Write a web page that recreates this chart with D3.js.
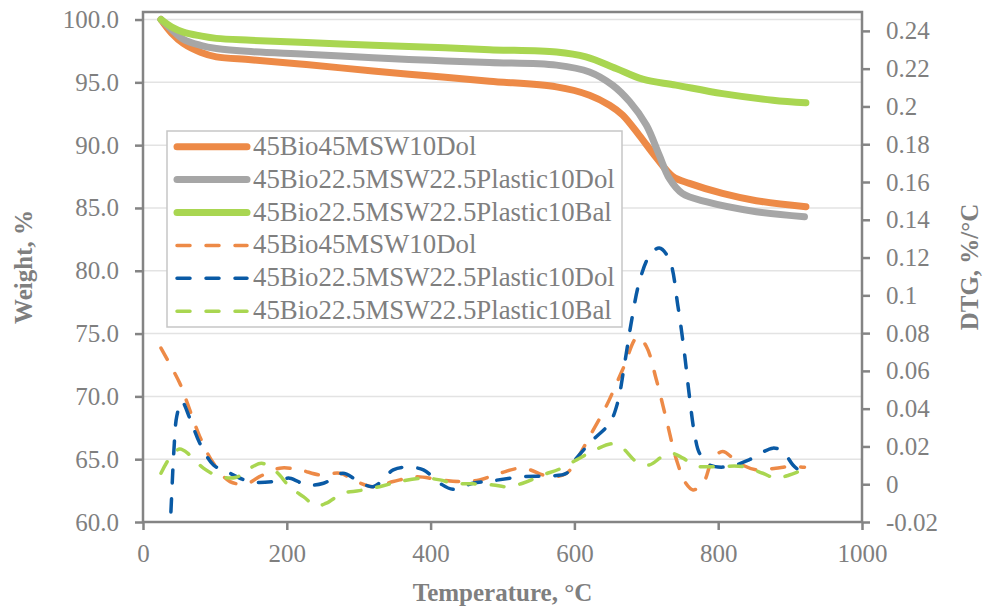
<!DOCTYPE html>
<html>
<head>
<meta charset="utf-8">
<script src="https://cdn.jsdelivr.net/npm/d3@7"></script>
<style>
  body { margin: 0; background: #fff; }
  text { font-family: "Times New Roman", "Liberation Serif", serif; fill: #7f7f7f; }
</style>
</head>
<body>
<div id="chart"></div>
<script>
// series names (legend order)
const seriesNames = ['45Bio45MSW10Dol', '45Bio22.5MSW22.5Plastic10Dol', '45Bio22.5MSW22.5Plastic10Bal'];

// tick values
const xTicks = [0, 200, 400, 600, 800, 1000];
const weightTicks = [60, 65, 70, 75, 80, 85, 90, 95, 100];
const dtgTicks = [-0.02, 0, 0.02, 0.04, 0.06, 0.08, 0.1, 0.12, 0.14, 0.16, 0.18, 0.2, 0.22, 0.24];

// TG curves: [temperature, weight %]
const tgDol = [[25,100],[40,98.9],[56,98.1],[80,97.4],[102,97.03],[150,96.8],[227,96.42],[320,95.9],[400,95.5],[482,95.09],[575,94.64],[621,93.98],[649,93.18],[667,92.4],[690,90.8],[713,89.07],[737,87.5],[760,86.96],[806,86.16],[853,85.58],[922,85.1]];
const tgPlasticDol = [[25,100],[40,99.2],[56,98.43],[80,97.95],[102,97.7],[150,97.45],[227,97.24],[320,96.95],[400,96.75],[482,96.58],[575,96.37],[621,95.83],[653,94.78],[677,93.45],[700,91.6],[718,89.2],[732,87.35],[750,86.16],[783,85.5],[853,84.7],[920,84.3]];
const tgPlasticBal = [[25,100],[40,99.4],[56,99.0],[80,98.7],[102,98.5],[150,98.35],[227,98.17],[320,97.95],[400,97.8],[482,97.6],[575,97.42],[616,97.03],[658,96.1],[695,95.25],[741,94.78],[806,94.1],[876,93.58],[922,93.37]];

// DTG curves: [temperature, %/°C]
const dtgDol = [[25,0.0721],[51,0.0536],[60,0.0447],[79,0.0252],[98,0.0111],[121,0.0014],[144,0.0002],[162,0.004],[190,0.0085],[218,0.0076],[246,0.0049],[274,0.0058],[297,0.0014],[320,-0.0013],[348,0.0014],[380,0.004],[413,0.0023],[440,0.0014],[468,0.0023],[496,0.0058],[528,0.0085],[566,0.004],[589,0.0058],[603,0.0129],[621,0.0252],[644,0.0411],[667,0.0606],[688,0.078],[700,0.073],[714,0.0553],[728,0.0341],[742,0.0129],[755,0.0005],[765,-0.003],[779,0.0005],[792,0.0129],[806,0.0173],[829,0.0111],[853,0.0076],[880,0.0085],[899,0.0093],[920,0.009]];
const dtgPlasticDol = [[37,-0.03],[40,-0.005],[43,0.018],[47,0.036],[54,0.0438],[65,0.035],[79,0.0217],[98,0.0102],[116,0.0067],[149,0.0014],[181,0.0014],[204,0.0032],[227,-0.0004],[251,0.0005],[278,0.0058],[297,0.0023],[320,-0.0013],[348,0.0076],[366,0.009],[390,0.0076],[413,0.0005],[431,-0.0027],[459,0.0005],[487,0.0019],[528,0.004],[566,0.0044],[589,0.0058],[603,0.0138],[626,0.0235],[649,0.0323],[660,0.043],[670,0.0642],[679,0.0854],[690,0.1066],[704,0.1207],[718,0.1251],[732,0.119],[744,0.0942],[753,0.0695],[760,0.0464],[767,0.027],[774,0.0164],[788,0.0102],[815,0.0093],[843,0.0129],[876,0.0191],[890,0.0173],[904,0.0102],[918,0.0055]];
const dtgPlasticBal = [[25,0.0058],[37,0.0138],[51,0.0186],[65,0.0155],[84,0.0085],[107,0.004],[130,0.0037],[149,0.0085],[165,0.0111],[185,0.0067],[204,-0.0013],[223,-0.0066],[241,-0.0115],[255,-0.01],[278,-0.0048],[301,-0.0034],[329,-0.0013],[357,0.0014],[390,0.0032],[413,0.0023],[431,0.0005],[459,0.0002],[487,-0.0004],[505,-0.0013],[528,0.0005],[556,0.0049],[579,0.008],[603,0.0129],[629,0.0182],[653,0.0214],[667,0.0191],[686,0.012],[704,0.0102],[722,0.0146],[735,0.0164],[751,0.0138],[769,0.0097],[797,0.0093],[834,0.0093],[862,0.0058],[880,0.0032],[899,0.0049],[918,0.0076]];

const width = 992;
const height = 606;
const plot = { left: 143, right: 862, top: 12, bottom: 522 };
const grey = '#7f7f7f';

const svg = d3.select('#chart')
  .append('svg')
  .attr('width', width)
  .attr('height', height);

// scales
const x = d3.scaleLinear().domain([0, 1000]).range([plot.left, plot.right]);
const yL = d3.scaleLinear().domain([60, 100.6]).range([plot.bottom, plot.top]);
const yR = d3.scaleLinear().domain([-0.02, 0.25]).range([plot.bottom, plot.top]);

// gridlines
svg.append('g')
  .selectAll('line')
  .data(weightTicks.slice(1))
  .join('line')
  .attr('x1', plot.left).attr('x2', plot.right)
  .attr('y1', d => yL(d)).attr('y2', d => yL(d))
  .attr('stroke', '#e3e3e3')
  .attr('stroke-width', 1.5);

// clip for the lines
svg.append('clipPath').attr('id', 'clip')
  .append('rect')
  .attr('x', plot.left).attr('y', plot.top)
  .attr('width', plot.right - plot.left).attr('height', plot.bottom - plot.top);

const orange = '#ed8a47';
const greyLine = '#a6a6a6';
const green = '#a9d651';
const blue = '#0a5aa5';

const lineL = d3.line().x(d => x(d[0])).y(d => yL(d[1])).curve(d3.curveCatmullRom.alpha(0.5));
const lineR = d3.line().x(d => x(d[0])).y(d => yR(d[1])).curve(d3.curveCatmullRom.alpha(0.5));

const solid = [
  { data: tgDol, color: orange },
  { data: tgPlasticDol, color: greyLine },
  { data: tgPlasticBal, color: green }
];
const dashed = [
  { data: dtgDol, color: orange },
  { data: dtgPlasticDol, color: blue },
  { data: dtgPlasticBal, color: green }
];

const lines = svg.append('g').attr('clip-path', 'url(#clip)');

solid.forEach(s => {
  lines.append('path')
    .attr('d', lineL(s.data))
    .attr('fill', 'none')
    .attr('stroke', s.color)
    .attr('stroke-width', 7)
    .attr('stroke-linecap', 'round')
    .attr('stroke-linejoin', 'round');
});

dashed.forEach(s => {
  lines.append('path')
    .attr('d', lineR(s.data))
    .attr('fill', 'none')
    .attr('stroke', s.color)
    .attr('stroke-width', 3.5)
    .attr('stroke-dasharray', '13,16')
    .attr('stroke-linecap', 'round');
});

// frame
svg.append('rect')
  .attr('x', plot.left).attr('y', plot.top)
  .attr('width', plot.right - plot.left).attr('height', plot.bottom - plot.top)
  .attr('fill', 'none')
  .attr('stroke', '#848484')
  .attr('stroke-width', 2.5);

// axes
function styleAxis(g) {
  g.select('.domain').remove();
  g.selectAll('line').attr('stroke', '#848484').attr('stroke-width', 2.5);
  g.selectAll('text').attr('fill', grey).style('font-size', '25px')
    .style('font-family', '"Times New Roman", "Liberation Serif", serif');
}

svg.append('g')
  .attr('transform', `translate(0,${plot.bottom})`)
  .call(d3.axisBottom(x).tickValues(xTicks).tickSize(8).tickPadding(14).tickFormat(d3.format('d')))
  .call(styleAxis);

svg.append('g')
  .attr('transform', `translate(${plot.left},0)`)
  .call(d3.axisLeft(yL).tickValues(weightTicks).tickSize(8).tickPadding(16).tickFormat(d3.format('.1f')))
  .call(styleAxis);

svg.append('g')
  .attr('transform', `translate(${plot.right},0)`)
  .call(d3.axisRight(yR).tickValues(dtgTicks).tickSize(8).tickPadding(16).tickFormat(d => String(+d.toFixed(2))))
  .call(styleAxis);

// axis titles
svg.append('text')
  .attr('x', (plot.left + plot.right) / 2)
  .attr('y', 601)
  .attr('text-anchor', 'middle')
  .style('font-size', '25px')
  .style('font-weight', 'bold')
  .text('Temperature, °C');

svg.append('text')
  .attr('transform', `translate(32,${(plot.top + plot.bottom) / 2}) rotate(-90)`)
  .attr('text-anchor', 'middle')
  .style('font-size', '25px')
  .style('font-weight', 'bold')
  .text('Weight, %');

svg.append('text')
  .attr('transform', `translate(978,${(plot.top + plot.bottom) / 2}) rotate(-90)`)
  .attr('text-anchor', 'middle')
  .style('font-size', '25px')
  .style('font-weight', 'bold')
  .text('DTG, %/°C');

// legend
const legend = svg.append('g').attr('transform', 'translate(167,131)');
legend.append('rect')
  .attr('width', 455).attr('height', 196)
  .attr('fill', '#fff')
  .attr('stroke', '#c6c6c6')
  .attr('stroke-width', 1.5);

const legendItems = solid.map((s, i) => ({ name: seriesNames[i], color: s.color, dash: false }))
  .concat(dashed.map((s, i) => ({ name: seriesNames[i], color: s.color, dash: true })));

legendItems.forEach((d, i) => {
  const cy = 15.7 + i * 32.9;
  legend.append('line')
    .attr('x1', 10).attr('x2', 80)
    .attr('y1', cy).attr('y2', cy)
    .attr('stroke', d.color)
    .attr('stroke-width', d.dash ? 3.5 : 7)
    .attr('stroke-linecap', 'round')
    .attr('stroke-dasharray', d.dash ? '13,16' : null);
  legend.append('text')
    .attr('x', 86)
    .attr('y', cy)
    .attr('dy', '0.3em')
    .style('font-size', '26.8px')
    .text(d.name);
});
</script>
</body>
</html>
